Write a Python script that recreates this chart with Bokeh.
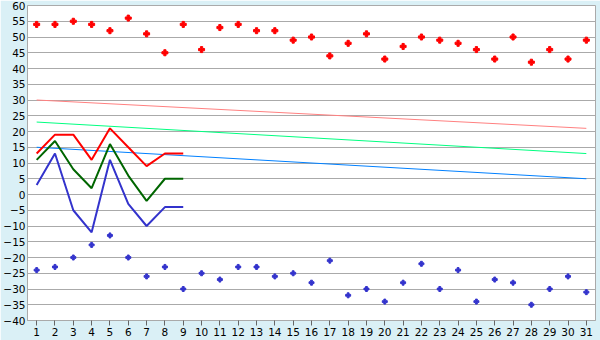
from bokeh.plotting import figure
from bokeh.models import Range1d, FixedTicker
from bokeh.embed import file_html
from bokeh.resources import INLINE

days = list(range(1, 32))
high_points = [54, 54, 55, 54, 52, 56, 51, 45, 54, 46, 53, 54, 52, 52, 49, 50, 44, 48, 51, 43,
               47, 50, 49, 48, 46, 43, 50, 42, 46, 43, 49]
low_points = [-24, -23, -20, -16, -13, -20, -26, -23, -30, -25, -27, -23, -23, -26, -25, -28, -21,
              -32, -30, -34, -28, -22, -30, -24, -34, -27, -28, -35, -30, -26, -31]
line_days = list(range(1, 10))
red_line = [13, 19, 19, 11, 21, 15, 9, 13, 13]
green_line = [11, 17, 8, 2, 16, 6, -2, 5, 5]
blue_line = [3, 13, -5, -12, 11, -3, -10, -4, -4]
trend_days = [1, 31]
trend_high = [30, 21]
trend_mid = [23, 13]
trend_low = [15, 5]

p = figure(width=600, height=340, output_backend="svg", toolbar_location=None,
           x_range=Range1d(0.5, 31.5), y_range=Range1d(-40, 60),
           min_border_left=27, min_border_right=5, min_border_top=5, min_border_bottom=20)
p.background_fill_color = "white"
p.border_fill_color = "#daf0f6"
p.outline_line_color = "#aaaaaa"

p.xgrid.visible = False
p.ygrid.grid_line_color = "#aaaaaa"
p.ygrid.grid_line_width = 1

p.yaxis.ticker = FixedTicker(ticks=list(range(-40, 61, 5)))
p.xaxis.ticker = FixedTicker(ticks=days)
for ax in (p.xaxis, p.yaxis):
    ax.axis_line_color = "#aaaaaa"
    ax.major_tick_line_color = "#666666"
    ax.minor_tick_line_color = None
    ax.major_label_text_font = "DejaVu Sans"
    ax.major_label_text_font_size = "10.5px"
    ax.major_label_text_color = "black"
    ax.major_label_standoff = 2
    ax.major_tick_in = 0
p.xaxis.major_tick_out = 5
p.yaxis.major_tick_out = 0
p.yaxis.major_label_standoff = 2

p.line(trend_days, trend_high, line_color="#ff8080", line_width=1)
p.line(trend_days, trend_mid, line_color="#00ff80", line_width=1)
p.line(trend_days, trend_low, line_color="#0080ff", line_width=1)

p.line(line_days, red_line, line_color="#ff0000", line_width=2)
p.line(line_days, green_line, line_color="#006600", line_width=2)
p.line(line_days, blue_line, line_color="#3333cc", line_width=2)

p.scatter(days, high_points, marker="plus", size=6, color="#ff0000")
p.scatter(days, low_points, marker="plus", size=5, color="#3333cc")

open("out.html", "w").write(file_html(p, INLINE))
